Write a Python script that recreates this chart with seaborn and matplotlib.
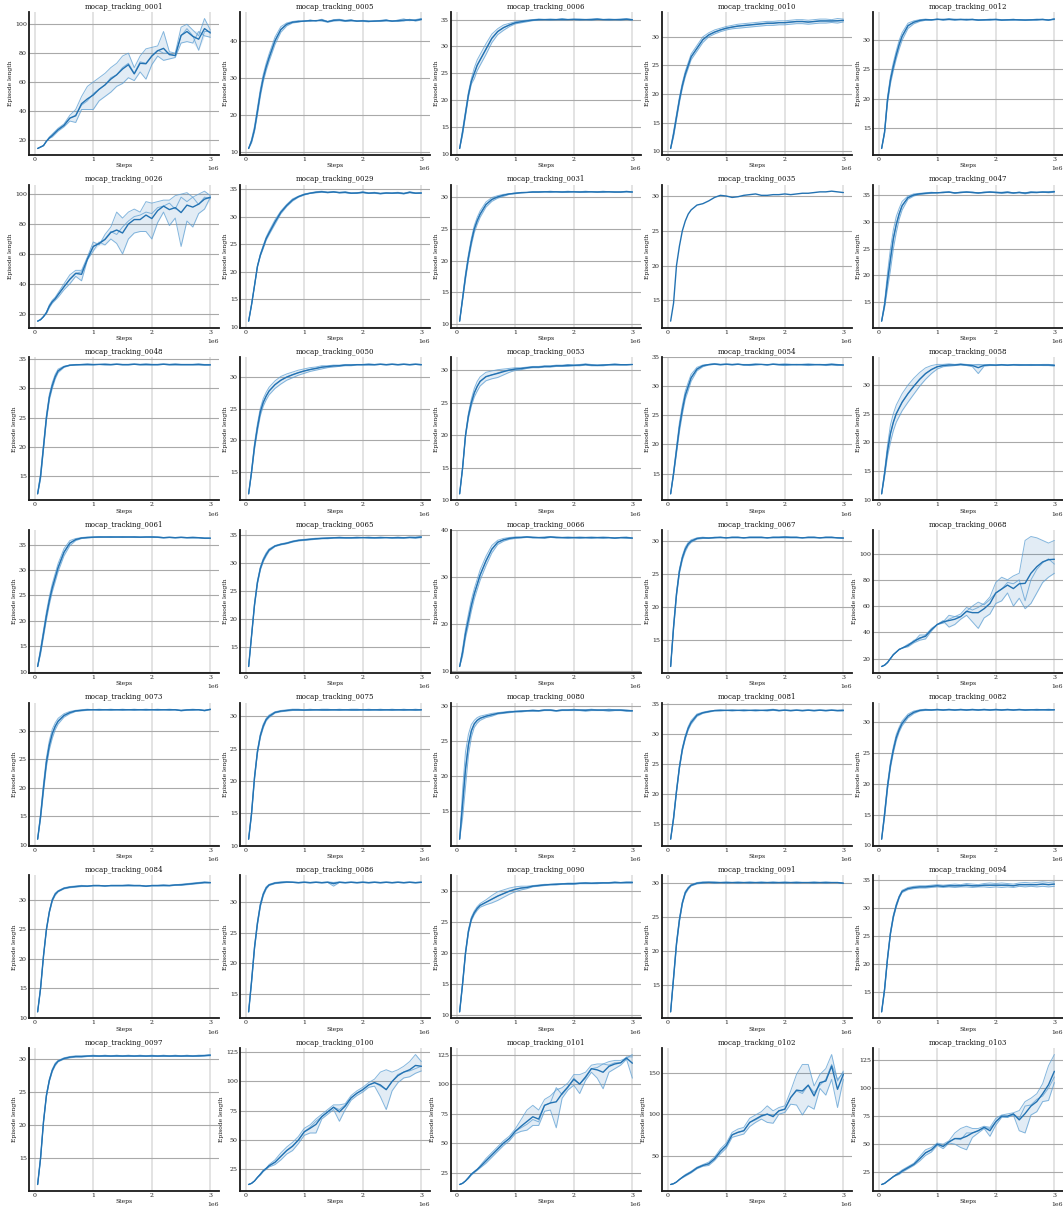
import matplotlib
matplotlib.use("Agg")
import matplotlib.pyplot as plt
from matplotlib.ticker import MaxNLocator
import pandas as pd
import seaborn as sns

# Environment steps at which the evaluation episodes were logged
steps = [50_000, 100_000, 150_000, 200_000, 250_000, 300_000, 350_000, 400_000,
         500_000, 600_000, 700_000, 800_000, 900_000, 1_000_000, 1_100_000, 1_200_000,
         1_300_000, 1_400_000, 1_500_000, 1_600_000, 1_700_000, 1_800_000, 1_900_000,
         2_000_000, 2_100_000, 2_200_000, 2_300_000, 2_400_000, 2_500_000, 2_600_000,
         2_700_000, 2_800_000, 2_900_000, 3_000_000]

# Episode length per seed for every tracking clip
seeds_0001 = [
    [14, 15, 16, 19, 22, 24, 26, 28, 31, 37, 41, 50, 57, 60, 63, 66, 70, 73, 78, 80, 70, 78, 83, 84, 85, 95, 81, 80, 98, 100, 96, 92, 104, 96],
    [14, 15, 16, 19, 21, 23, 25, 27, 30, 35, 37, 44, 47, 52, 55, 58, 63, 65, 70, 73, 66, 74, 73, 78, 82, 80, 80, 78, 92, 97, 92, 82, 95, 95],
    [14, 15, 16, 19, 21, 22, 24, 26, 29, 33, 32, 41, 41, 41, 47, 50, 53, 57, 59, 63, 61, 67, 62, 72, 78, 75, 76, 77, 87, 88, 87, 95, 92, 91],
]
seeds_0005 = [
    [11, 13.5, 17, 22, 27, 31, 34, 36.5, 41, 43.8, 44.8, 45.2, 45.4, 45.2, 45.6, 45.3, 45.8, 45.2, 45.7, 45.8, 45.5, 45.7, 45.2, 45.5, 45.3, 45.2, 45.5, 45.7, 45.2, 45.6, 45.9, 45.4, 45.7, 46.0],
    [11, 13, 16, 21, 26, 30, 33, 35.5, 40, 43, 44.5, 45, 45.2, 45.3, 45.5, 45.4, 45.6, 45.2, 45.5, 45.6, 45.4, 45.5, 45.3, 45.4, 45.3, 45.3, 45.4, 45.5, 45.3, 45.4, 45.5, 45.6, 45.5, 45.8],
    [11, 12.5, 15.5, 20, 25, 29, 32, 34.5, 39, 42.3, 44, 44.8, 45.0, 45.4, 45.2, 45.5, 45.3, 45.0, 45.3, 45.4, 45.2, 45.3, 45.4, 45.2, 45.1, 45.4, 45.2, 45.3, 45.4, 45.2, 45.3, 45.8, 45.3, 45.6],
]
seeds_0006 = [
    [11, 14.5, 18, 21.5, 24, 26, 27.5, 28.5, 30.5, 32.3, 33.3, 34, 34.3, 34.6, 34.8, 34.9, 35, 35.1, 35, 35.1, 35, 35.2, 35, 35.1, 35.1, 35, 35.1, 35.2, 35, 35.1, 35, 35.1, 35.2, 35],
    [11, 14, 17.5, 21, 23.5, 25, 26.5, 27.5, 29.5, 31.5, 32.8, 33.5, 34, 34.4, 34.6, 34.8, 34.9, 35, 35, 35, 35, 35, 35, 35, 35, 35, 35, 35, 35, 35, 35, 35, 35, 35],
    [11, 13.5, 17, 20.5, 23, 24, 25.5, 26.5, 28.5, 30.7, 32.2, 33, 33.7, 34.2, 34.4, 34.6, 34.8, 34.9, 35, 34.9, 35, 34.9, 35, 35, 34.9, 35, 34.9, 35, 35, 34.9, 35, 34.9, 35, 34.9],
]
seeds_0010 = [
    [10.5, 13.5, 16.5, 19.5, 22, 24, 25.5, 27, 28.5, 30, 30.7, 31.2, 31.5, 31.8, 32, 32.2, 32.3, 32.4, 32.5, 32.6, 32.7, 32.7, 32.8, 32.8, 32.9, 33, 33, 32.9, 33, 33.1, 33.1, 33, 33.2, 33.1],
    [10.5, 13, 16, 19, 21.5, 23.5, 25, 26.5, 28, 29.5, 30.3, 30.8, 31.2, 31.5, 31.7, 31.9, 32, 32.1, 32.2, 32.3, 32.4, 32.4, 32.5, 32.5, 32.6, 32.7, 32.7, 32.6, 32.7, 32.8, 32.8, 32.8, 32.8, 32.9],
    [10.5, 12.5, 15.5, 18.5, 21, 23, 24.5, 26, 27.5, 29, 30, 30.5, 30.9, 31.2, 31.4, 31.5, 31.6, 31.7, 31.8, 31.9, 32, 32, 32.1, 32.1, 32.2, 32.3, 32.3, 32.2, 32.3, 32.4, 32.4, 32.5, 32.4, 32.6],
]
seeds_0012 = [
    [11.5, 14.5, 20.3, 23.8, 26.2, 28.2, 30, 31.3, 32.9, 33.3, 33.5, 33.6, 33.5, 33.6, 33.5, 33.7, 33.5, 33.6, 33.5, 33.6, 33.4, 33.5, 33.6, 33.5, 33.4, 33.5, 33.6, 33.4, 33.5, 33.4, 33.5, 33.6, 33.4, 33.7],
    [11.5, 14.3, 19.8, 23.2, 25.5, 27.5, 29.3, 30.7, 32.5, 33.1, 33.4, 33.5, 33.5, 33.5, 33.6, 33.5, 33.6, 33.5, 33.6, 33.5, 33.5, 33.4, 33.5, 33.6, 33.5, 33.4, 33.5, 33.5, 33.4, 33.5, 33.6, 33.5, 33.4, 33.6],
    [11.5, 14, 19.2, 22.5, 24.8, 26.8, 28.5, 30, 32, 32.8, 33.2, 33.4, 33.4, 33.6, 33.4, 33.5, 33.4, 33.5, 33.4, 33.5, 33.4, 33.5, 33.4, 33.5, 33.4, 33.5, 33.4, 33.5, 33.4, 33.5, 33.4, 33.5, 33.5, 33.5],
]
seeds_0026 = [
    [15, 16, 18, 21, 26, 29, 31, 34, 40, 46, 49, 49, 58, 68, 66, 73, 78, 88, 84, 88, 90, 88, 95, 94, 95, 96, 96, 99, 100, 101, 98, 100, 102, 99],
    [15, 16, 18, 21, 25, 28, 30, 33, 38, 43, 47, 48, 56, 65, 67, 70, 75, 73, 78, 82, 85, 86, 88, 87, 91, 92, 94, 90, 98, 95, 98, 93, 98, 97],
    [15, 16, 18, 20, 24, 27, 29, 31, 36, 40, 45, 42, 56, 62, 68, 66, 70, 67, 60, 70, 74, 75, 75, 70, 81, 88, 79, 84, 65, 82, 78, 87, 90, 98],
]
seeds_0029 = [
    [11, 14, 17.5, 21, 23.2, 24.8, 26.3, 27.4, 29.4, 31, 32.2, 33.2, 33.7, 34.1, 34.3, 34.5, 34.6, 34.4, 34.5, 34.4, 34.5, 34.3, 34.3, 34.5, 34.3, 34.4, 34.2, 34.3, 34.3, 34.4, 34.2, 34.5, 34.3, 34.3],
    [11, 14, 17.5, 21, 23, 24.5, 26, 27, 29, 30.8, 32, 33, 33.6, 34, 34.2, 34.4, 34.5, 34.4, 34.5, 34.3, 34.4, 34.2, 34.3, 34.4, 34.2, 34.3, 34.2, 34.3, 34.2, 34.3, 34.2, 34.4, 34.2, 34.3],
    [11, 14, 17.3, 20.8, 22.8, 24.2, 25.7, 26.7, 28.6, 30.5, 31.8, 32.8, 33.5, 33.9, 34.2, 34.3, 34.4, 34.3, 34.4, 34.3, 34.3, 34.2, 34.2, 34.3, 34.2, 34.2, 34.1, 34.2, 34.2, 34.2, 34.1, 34.3, 34.2, 34.2],
]
seeds_0031 = [
    [10.5, 14.3, 18, 21, 23.5, 25.5, 26.8, 27.8, 29.2, 29.9, 30.2, 30.4, 30.5, 30.6, 30.7, 30.7, 30.8, 30.8, 30.8, 30.9, 30.8, 30.8, 30.9, 30.8, 30.8, 30.9, 30.8, 30.8, 30.9, 30.8, 30.7, 30.8, 30.9, 30.8],
    [10.5, 14, 17.5, 20.5, 23, 25, 26.3, 27.3, 28.8, 29.6, 30, 30.3, 30.5, 30.6, 30.7, 30.7, 30.8, 30.8, 30.8, 30.8, 30.8, 30.8, 30.8, 30.8, 30.8, 30.8, 30.8, 30.8, 30.8, 30.8, 30.8, 30.8, 30.8, 30.8],
    [10.5, 13.7, 17, 20, 22.4, 24.4, 25.7, 26.8, 28.4, 29.3, 29.8, 30.1, 30.4, 30.5, 30.6, 30.7, 30.7, 30.7, 30.8, 30.7, 30.8, 30.7, 30.7, 30.8, 30.7, 30.7, 30.8, 30.7, 30.7, 30.8, 30.8, 30.7, 30.8, 30.7],
]
seeds_0035 = [
    [12, 14.6, 20, 22.8, 25, 26.4, 27.4, 28, 28.7, 28.9, 29.3, 29.8, 30.1, 30, 29.8, 29.9, 30.1, 30.2, 30.3, 30.1, 30.1, 30.2, 30.2, 30.3, 30.2, 30.3, 30.4, 30.4, 30.5, 30.6, 30.6, 30.7, 30.6, 30.5],
]
seeds_0047 = [
    [11.5, 15, 20.5, 25, 28.5, 31, 32.5, 33.8, 34.8, 35.2, 35.3, 35.4, 35.5, 35.4, 35.5, 35.6, 35.4, 35.5, 35.6, 35.5, 35.4, 35.5, 35.6, 35.5, 35.5, 35.6, 35.4, 35.5, 35.4, 35.6, 35.5, 35.6, 35.6, 35.7],
    [11.5, 14.5, 19, 23, 27, 29.5, 31.5, 33, 34.5, 35, 35.2, 35.3, 35.4, 35.4, 35.5, 35.5, 35.4, 35.5, 35.5, 35.5, 35.4, 35.5, 35.5, 35.5, 35.4, 35.5, 35.4, 35.5, 35.4, 35.5, 35.5, 35.5, 35.5, 35.6],
    [11.5, 14, 17.5, 21, 25, 28, 30.5, 32.2, 34.2, 34.8, 35.1, 35.2, 35.3, 35.4, 35.4, 35.5, 35.3, 35.4, 35.5, 35.4, 35.3, 35.4, 35.5, 35.4, 35.3, 35.4, 35.3, 35.4, 35.2, 35.4, 35.4, 35.5, 35.4, 35.5],
]
seeds_0048 = [
    [12, 15.5, 20.5, 25.5, 29, 31, 32.4, 33.3, 33.8, 34, 34.1, 34.1, 34.2, 34.1, 34.1, 34.2, 34.1, 34.2, 34.1, 34.1, 34.2, 34.1, 34.2, 34.1, 34.1, 34.2, 34.1, 34.2, 34.1, 34.1, 34.1, 34.2, 34.1, 34.1],
    [12, 15, 20, 25, 28.5, 30.5, 32, 33, 33.7, 34, 34, 34.1, 34.1, 34.1, 34.1, 34.1, 34.1, 34.1, 34.1, 34.1, 34.1, 34.1, 34.1, 34.1, 34.1, 34.1, 34.1, 34.1, 34.1, 34.1, 34.1, 34.1, 34, 34],
    [12, 14.5, 19.5, 24.5, 28, 30, 31.6, 32.7, 33.6, 33.9, 34, 34, 34, 34, 34.1, 34, 34, 34.1, 34, 34, 34.1, 34, 34, 34, 34, 34.1, 34, 34, 34, 34, 34, 34, 34, 34],
]
seeds_0050 = [
    [11.5, 15.3, 19.5, 22.6, 25.1, 26.6, 27.6, 28.4, 29.4, 30.1, 30.5, 30.8, 31.1, 31.3, 31.5, 31.6, 31.8, 31.8, 31.9, 31.9, 32, 32, 32, 32, 32.1, 32, 32.1, 32, 32.1, 32, 32.1, 32, 32.1, 32],
    [11.5, 15, 19, 22, 24.5, 26, 27, 27.8, 28.8, 29.5, 30, 30.4, 30.7, 31, 31.2, 31.4, 31.6, 31.7, 31.8, 31.8, 31.9, 31.9, 32, 32, 32, 32, 32, 32, 32, 32, 32, 32, 32, 32],
    [11.5, 14.7, 18.5, 21.4, 23.9, 25.4, 26.4, 27.2, 28.2, 28.9, 29.5, 29.9, 30.3, 30.6, 30.9, 31.1, 31.3, 31.5, 31.6, 31.7, 31.8, 31.8, 31.9, 31.9, 31.9, 31.9, 32, 31.9, 32, 31.9, 32, 31.9, 32, 31.9],
]
seeds_0053 = [
    [11, 15, 20.2, 23.4, 25.6, 27.2, 28.3, 29, 29.7, 29.9, 30.1, 30.2, 30.3, 30.4, 30.4, 30.5, 30.6, 30.6, 30.7, 30.7, 30.8, 30.8, 30.9, 30.8, 30.9, 31, 30.9, 30.8, 30.9, 30.9, 31, 30.9, 30.9, 30.9],
    [11, 15, 20, 23, 25, 26.5, 27.5, 28.3, 29, 29.3, 29.6, 29.9, 30.1, 30.2, 30.3, 30.4, 30.5, 30.5, 30.6, 30.6, 30.7, 30.7, 30.8, 30.8, 30.8, 30.9, 30.8, 30.8, 30.8, 30.9, 30.9, 30.9, 30.9, 30.9],
    [11, 14.8, 19.7, 22.6, 24.5, 25.9, 26.8, 27.6, 28.4, 28.7, 28.9, 29.3, 29.7, 30, 30.1, 30.3, 30.4, 30.4, 30.5, 30.5, 30.6, 30.6, 30.6, 30.7, 30.7, 30.8, 30.7, 30.7, 30.7, 30.8, 30.8, 30.8, 30.8, 30.9],
]
seeds_0054 = [
    [11.5, 15.3, 19.6, 23.8, 26.8, 29.2, 30.7, 32.1, 33.3, 33.7, 33.8, 33.9, 33.8, 33.9, 33.8, 33.9, 33.7, 33.8, 33.9, 33.8, 33.7, 33.9, 33.8, 33.9, 33.8, 33.7, 33.8, 33.9, 33.8, 33.7, 33.8, 33.9, 33.8, 33.7],
    [11.5, 15, 19, 23, 26, 28.5, 30, 31.5, 33, 33.6, 33.8, 33.9, 33.8, 33.8, 33.8, 33.8, 33.8, 33.8, 33.8, 33.8, 33.8, 33.8, 33.8, 33.8, 33.8, 33.8, 33.8, 33.8, 33.8, 33.8, 33.8, 33.8, 33.8, 33.7],
    [11.5, 14.7, 18.4, 22.2, 25.2, 27.8, 29.3, 30.9, 32.7, 33.4, 33.7, 33.8, 33.7, 33.8, 33.7, 33.8, 33.7, 33.6, 33.7, 33.8, 33.7, 33.8, 33.7, 33.6, 33.7, 33.8, 33.7, 33.6, 33.7, 33.8, 33.6, 33.7, 33.6, 33.7],
]
seeds_0058 = [
    [11, 15, 19.5, 23, 25, 26.5, 27.5, 28.5, 30, 31.2, 32.2, 33, 33.4, 33.6, 33.6, 33.7, 33.6, 33.7, 33.6, 33.5, 33.6, 33.5, 33.6, 33.5, 33.6, 33.5, 33.6, 33.6, 33.5, 33.6, 33.5, 33.6, 33.6, 33.5],
    [11, 14.5, 18.5, 21.5, 23.5, 25, 26, 27, 28.5, 29.8, 31, 32, 32.7, 33.2, 33.4, 33.5, 33.5, 33.6, 33.5, 33.5, 33.5, 33.5, 33.5, 33.5, 33.5, 33.5, 33.5, 33.5, 33.5, 33.5, 33.5, 33.5, 33.5, 33.5],
    [11, 14, 17.5, 20, 22, 23.5, 24.5, 25.5, 27, 28.4, 29.8, 31, 32, 32.8, 33.2, 33.3, 33.4, 33.5, 33.4, 33.2, 32, 33.3, 33.4, 33.4, 33.5, 33.4, 33.5, 33.4, 33.5, 33.4, 33.5, 33.4, 33.4, 33.3],
]
seeds_0061 = [
    [11, 14.6, 18.2, 21.8, 24.8, 27.3, 29.3, 31.3, 34.2, 35.8, 36.2, 36.4, 36.5, 36.5, 36.6, 36.5, 36.6, 36.5, 36.6, 36.5, 36.6, 36.5, 36.5, 36.6, 36.5, 36.4, 36.5, 36.4, 36.5, 36.4, 36.5, 36.4, 36.3, 36.3],
    [11, 14, 17.5, 21, 24, 26.5, 28.5, 30.5, 33.5, 35.3, 36, 36.3, 36.4, 36.5, 36.5, 36.5, 36.5, 36.5, 36.5, 36.5, 36.5, 36.5, 36.5, 36.5, 36.5, 36.4, 36.4, 36.4, 36.4, 36.4, 36.4, 36.4, 36.3, 36.3],
    [11, 13.4, 16.8, 20.2, 23.2, 25.7, 27.7, 29.7, 32.8, 34.8, 35.8, 36.2, 36.3, 36.4, 36.4, 36.5, 36.4, 36.5, 36.4, 36.5, 36.4, 36.4, 36.5, 36.4, 36.4, 36.3, 36.4, 36.3, 36.4, 36.3, 36.3, 36.3, 36.2, 36.2],
]
seeds_0065 = [
    [11.5, 17.2, 22.8, 26.8, 29.3, 30.8, 31.8, 32.5, 33.1, 33.4, 33.6, 33.9, 34.1, 34.2, 34.3, 34.4, 34.4, 34.5, 34.5, 34.6, 34.5, 34.5, 34.6, 34.5, 34.6, 34.5, 34.6, 34.5, 34.5, 34.6, 34.5, 34.6, 34.6, 34.7],
    [11.5, 17, 22.5, 26.5, 29, 30.5, 31.5, 32.3, 33, 33.3, 33.5, 33.8, 34, 34.1, 34.2, 34.3, 34.4, 34.4, 34.5, 34.5, 34.5, 34.5, 34.5, 34.5, 34.5, 34.5, 34.5, 34.5, 34.5, 34.5, 34.5, 34.5, 34.5, 34.6],
    [11.5, 16.8, 22.2, 26.2, 28.7, 30.2, 31.2, 32.1, 32.9, 33.2, 33.4, 33.7, 33.9, 34, 34.1, 34.2, 34.3, 34.3, 34.4, 34.4, 34.4, 34.4, 34.4, 34.5, 34.4, 34.4, 34.4, 34.5, 34.4, 34.4, 34.4, 34.5, 34.4, 34.5],
]
seeds_0066 = [
    [11, 14.8, 19, 22.2, 25.2, 27.6, 29.6, 31.6, 34.5, 36.8, 37.9, 38.3, 38.5, 38.6, 38.6, 38.7, 38.6, 38.5, 38.6, 38.7, 38.6, 38.5, 38.6, 38.5, 38.6, 38.5, 38.6, 38.5, 38.6, 38.5, 38.4, 38.5, 38.6, 38.4],
    [11, 14, 18, 21, 24, 26.5, 28.5, 30.5, 33.5, 36, 37.5, 38, 38.3, 38.5, 38.5, 38.6, 38.5, 38.5, 38.5, 38.6, 38.5, 38.5, 38.5, 38.5, 38.5, 38.5, 38.5, 38.5, 38.5, 38.5, 38.4, 38.5, 38.5, 38.4],
    [11, 13.2, 17, 19.8, 22.8, 25.4, 27.4, 29.4, 32.5, 35.2, 37, 37.7, 38.1, 38.3, 38.4, 38.5, 38.4, 38.4, 38.3, 38.5, 38.4, 38.4, 38.3, 38.4, 38.3, 38.4, 38.3, 38.4, 38.3, 38.4, 38.3, 38.4, 38.3, 38.3],
]
seeds_0067 = [
    [11, 17.3, 22.3, 25.8, 27.8, 29.1, 29.8, 30.2, 30.5, 30.6, 30.5, 30.6, 30.6, 30.5, 30.6, 30.6, 30.5, 30.6, 30.6, 30.6, 30.5, 30.6, 30.6, 30.7, 30.6, 30.6, 30.5, 30.6, 30.6, 30.5, 30.6, 30.6, 30.5, 30.5],
    [11, 17, 22, 25.5, 27.5, 28.8, 29.6, 30, 30.4, 30.5, 30.5, 30.5, 30.6, 30.5, 30.6, 30.6, 30.5, 30.6, 30.6, 30.6, 30.5, 30.6, 30.6, 30.6, 30.6, 30.6, 30.5, 30.6, 30.6, 30.5, 30.6, 30.6, 30.5, 30.5],
    [11, 16.6, 21.6, 25.1, 27.1, 28.4, 29.3, 29.8, 30.3, 30.4, 30.4, 30.5, 30.5, 30.5, 30.5, 30.5, 30.5, 30.5, 30.5, 30.5, 30.5, 30.5, 30.5, 30.5, 30.5, 30.5, 30.5, 30.5, 30.5, 30.5, 30.5, 30.5, 30.5, 30.4],
]
seeds_0068 = [
    [14, 15, 17, 20, 23, 25, 27, 28, 31, 33, 38, 38, 43, 46, 47, 50, 52, 54, 59, 57, 59, 62, 67, 78, 82, 80, 83, 85, 110, 113, 112, 110, 108, 110],
    [14, 15, 17, 20, 23, 25, 27, 28, 30, 34, 35, 38, 42, 46, 48, 53, 52, 52, 56, 60, 63, 61, 65, 70, 73, 78, 77, 80, 64, 80, 88, 93, 96, 92],
    [14, 15, 17, 20, 23, 25, 27, 28, 29, 32, 34, 35, 41, 46, 49, 44, 46, 50, 53, 48, 43, 51, 54, 62, 64, 70, 60, 66, 58, 62, 70, 78, 82, 85],
]
seeds_0073 = [
    [11, 15.5, 20.8, 25.3, 28.3, 30.3, 31.4, 32.2, 33, 33.4, 33.6, 33.7, 33.8, 33.7, 33.8, 33.7, 33.8, 33.7, 33.8, 33.7, 33.8, 33.7, 33.8, 33.7, 33.8, 33.7, 33.8, 33.7, 33.6, 33.7, 33.8, 33.7, 33.6, 33.8],
    [11, 15, 20, 24.5, 27.5, 29.5, 30.8, 31.7, 32.7, 33.2, 33.5, 33.6, 33.7, 33.7, 33.7, 33.7, 33.7, 33.7, 33.7, 33.7, 33.7, 33.7, 33.7, 33.7, 33.7, 33.7, 33.7, 33.7, 33.6, 33.7, 33.7, 33.7, 33.6, 33.8],
    [11, 14.5, 19.2, 23.7, 26.7, 28.7, 30.2, 31.2, 32.4, 33, 33.4, 33.5, 33.6, 33.7, 33.6, 33.7, 33.6, 33.7, 33.6, 33.7, 33.6, 33.7, 33.6, 33.7, 33.6, 33.7, 33.6, 33.7, 33.5, 33.6, 33.6, 33.7, 33.5, 33.7],
]
seeds_0075 = [
    [11, 15.3, 20.8, 24.8, 27.3, 28.8, 29.7, 30.2, 30.7, 30.9, 31, 31.1, 31.1, 31, 31.1, 31, 31.1, 31.1, 31, 31.1, 31, 31.1, 31.1, 31, 31.1, 31, 31.1, 31, 31.1, 31, 31.1, 31, 31.1, 31],
    [11, 15, 20.5, 24.5, 27, 28.5, 29.5, 30, 30.6, 30.8, 30.9, 31, 31, 31, 31, 31, 31, 31, 31, 31, 31, 31, 31, 31, 31, 31, 31, 31, 31, 31, 31, 31, 31, 31],
    [11, 14.7, 20.2, 24.2, 26.7, 28.2, 29.3, 29.8, 30.5, 30.7, 30.8, 30.9, 30.9, 30.9, 30.9, 31, 30.9, 30.9, 31, 30.9, 31, 30.9, 30.9, 31, 30.9, 31, 30.9, 31, 30.9, 31, 30.9, 31, 30.9, 31],
]
seeds_0080 = [
    [11, 18, 23.5, 26, 27.4, 28, 28.4, 28.6, 28.8, 29, 29.1, 29.2, 29.3, 29.3, 29.4, 29.4, 29.5, 29.4, 29.5, 29.5, 29.4, 29.5, 29.5, 29.6, 29.5, 29.5, 29.6, 29.5, 29.5, 29.6, 29.5, 29.5, 29.5, 29.4],
    [11, 16, 21, 24.5, 26.5, 27.5, 28, 28.3, 28.6, 28.8, 29, 29.1, 29.2, 29.3, 29.3, 29.4, 29.4, 29.4, 29.5, 29.5, 29.4, 29.5, 29.5, 29.5, 29.5, 29.5, 29.5, 29.5, 29.5, 29.5, 29.5, 29.5, 29.4, 29.4],
    [11, 14, 18.5, 23, 25.6, 27, 27.6, 28, 28.4, 28.6, 28.9, 29, 29.1, 29.2, 29.2, 29.3, 29.3, 29.3, 29.4, 29.4, 29.3, 29.4, 29.4, 29.4, 29.4, 29.3, 29.4, 29.4, 29.4, 29.3, 29.4, 29.4, 29.3, 29.3],
]
seeds_0081 = [
    [12.5, 16.3, 20.8, 24.8, 27.8, 29.8, 31.3, 32.3, 33.4, 33.7, 33.9, 34, 34.1, 34, 34.1, 34, 34.1, 34, 34.1, 34, 34.1, 34.2, 34, 34.1, 34, 34.1, 34, 34.1, 34, 34.1, 34, 34.1, 34, 34.1],
    [12.5, 16, 20.5, 24.5, 27.5, 29.5, 31, 32, 33.2, 33.6, 33.8, 34, 34, 34, 34, 34, 34, 34, 34, 34, 34, 34.1, 34, 34, 34, 34, 34, 34, 34, 34, 34, 34, 34, 34],
    [12.5, 15.7, 20.2, 24.2, 27.2, 29.2, 30.7, 31.7, 33, 33.5, 33.7, 33.9, 33.9, 34, 33.9, 34, 33.9, 34, 33.9, 34, 33.9, 34, 33.9, 34, 33.9, 34, 33.9, 34, 33.9, 34, 33.9, 34, 33.9, 33.9],
]
seeds_0082 = [
    [11, 15.5, 20, 23.5, 26, 28, 29.2, 30.2, 31.3, 31.8, 32, 32.1, 32, 32.1, 32, 32.1, 32, 32.1, 32, 32.1, 32, 32.1, 32, 32.1, 32, 32.1, 32, 32.1, 32, 32, 32.1, 32, 32.1, 32],
    [11, 15, 19.5, 23, 25.5, 27.5, 28.8, 29.8, 31, 31.6, 31.9, 32, 32, 32, 32, 32, 32, 32, 32, 32, 32, 32, 32, 32, 32, 32, 32, 32, 32, 32, 32, 32, 32, 32],
    [11, 14.5, 19, 22.5, 25, 27, 28.4, 29.4, 30.7, 31.4, 31.8, 31.9, 31.9, 32, 31.9, 32, 31.9, 32, 31.9, 32, 31.9, 32, 31.9, 32, 31.9, 32, 31.9, 32, 31.9, 32, 31.9, 32, 31.9, 32],
]
seeds_0084 = [
    [11, 15.2, 20.7, 25.2, 28.2, 30.2, 31.2, 31.6, 32.1, 32.3, 32.4, 32.5, 32.4, 32.5, 32.5, 32.4, 32.5, 32.5, 32.5, 32.6, 32.5, 32.5, 32.4, 32.5, 32.5, 32.6, 32.5, 32.6, 32.7, 32.8, 32.9, 33, 33.1, 33],
    [11, 15, 20.5, 25, 28, 30, 31, 31.5, 32, 32.2, 32.3, 32.4, 32.4, 32.5, 32.5, 32.4, 32.5, 32.5, 32.5, 32.5, 32.5, 32.5, 32.4, 32.5, 32.5, 32.5, 32.5, 32.6, 32.6, 32.7, 32.8, 32.9, 33, 33],
    [11, 14.8, 20.3, 24.8, 27.8, 29.8, 30.8, 31.4, 31.9, 32.1, 32.2, 32.3, 32.3, 32.4, 32.4, 32.4, 32.4, 32.4, 32.4, 32.4, 32.4, 32.4, 32.3, 32.4, 32.4, 32.4, 32.4, 32.5, 32.5, 32.6, 32.7, 32.8, 32.9, 32.9],
]
seeds_0086 = [
    [12, 17.3, 22.8, 26.8, 29.8, 31.5, 32.5, 32.9, 33.2, 33.3, 33.3, 33.3, 33.2, 33.3, 33.2, 33.3, 33.2, 33.3, 33.2, 33.3, 33.2, 33.3, 33.2, 33.3, 33.2, 33.3, 33.2, 33.3, 33.2, 33.3, 33.2, 33.3, 33.2, 33.3],
    [12, 17, 22.5, 26.5, 29.5, 31.3, 32.3, 32.8, 33.1, 33.2, 33.3, 33.2, 33.2, 33.2, 33.2, 33.2, 33.2, 33.2, 33.2, 33.2, 33.2, 33.2, 33.2, 33.2, 33.2, 33.2, 33.2, 33.2, 33.2, 33.2, 33.2, 33.2, 33.2, 33.2],
    [12, 16.7, 22.2, 26.2, 29.2, 31, 32.1, 32.7, 33, 33.1, 33.2, 33.2, 33.1, 33.2, 33.1, 33.2, 33.1, 33.2, 32.6, 33.2, 33.1, 33.2, 33.1, 33.2, 33.1, 33.2, 33.1, 33.2, 33.1, 33.2, 33.1, 33.2, 33.1, 33.2],
]
seeds_0090 = [
    [10.5, 15.3, 20.3, 23.8, 25.8, 26.8, 27.5, 28, 28.6, 29.3, 29.9, 30.2, 30.5, 30.7, 30.8, 30.8, 30.9, 31, 31.1, 31.1, 31.2, 31.2, 31.3, 31.3, 31.3, 31.4, 31.3, 31.4, 31.4, 31.4, 31.5, 31.4, 31.5, 31.5],
    [10.5, 15, 20, 23.5, 25.5, 26.5, 27.2, 27.7, 28.2, 28.7, 29.2, 29.6, 30, 30.3, 30.5, 30.6, 30.8, 30.9, 31, 31.1, 31.1, 31.2, 31.2, 31.2, 31.3, 31.3, 31.3, 31.3, 31.3, 31.3, 31.4, 31.4, 31.4, 31.4],
    [10.5, 14.7, 19.7, 23.2, 25.2, 26.2, 26.9, 27.4, 27.8, 28.1, 28.5, 29, 29.5, 29.9, 30.2, 30.4, 30.7, 30.8, 30.9, 31, 31, 31.1, 31.1, 31.1, 31.2, 31.2, 31.2, 31.2, 31.3, 31.3, 31.3, 31.3, 31.3, 31.3],
]
seeds_0091 = [
    [11, 16.3, 21.3, 24.8, 27.2, 28.7, 29.3, 29.7, 30, 30.1, 30.1, 30.1, 30, 30.1, 30, 30.1, 30, 30.1, 30, 30.1, 30, 30.1, 30, 30.1, 30, 30.1, 30, 30, 30.1, 30, 30.1, 30, 30, 29.9],
    [11, 16, 21, 24.5, 27, 28.5, 29.2, 29.6, 29.9, 30, 30, 30, 30, 30, 30, 30, 30, 30, 30, 30, 30, 30, 30, 30, 30, 30, 30, 30, 30, 30, 30, 30, 30, 29.9],
    [11, 15.7, 20.7, 24.2, 26.8, 28.3, 29, 29.5, 29.8, 29.9, 30, 29.9, 30, 29.9, 30, 29.9, 30, 29.9, 30, 29.9, 30, 29.9, 30, 29.9, 30, 29.9, 30, 30, 29.9, 30, 29.9, 30, 30, 29.9],
]
seeds_0094 = [
    [11.5, 15.8, 21.3, 25.8, 28.8, 30.8, 32.2, 33.2, 33.7, 33.9, 34, 34, 34.1, 34.2, 34.1, 34.2, 34.3, 34.2, 34.4, 34.3, 34.2, 34.4, 34.5, 34.4, 34.5, 34.4, 34.3, 34.5, 34.6, 34.5, 34.6, 34.7, 34.6, 34.7],
    [11.5, 15.5, 21, 25.5, 28.5, 30.5, 32, 33, 33.5, 33.7, 33.8, 33.8, 33.9, 34, 33.9, 34, 34, 34, 34.1, 34, 34, 34.1, 34.1, 34.1, 34.1, 34.1, 34, 34.2, 34.2, 34.2, 34.2, 34.3, 34.2, 34.3],
    [11.5, 15.2, 20.7, 25.2, 28.2, 30.2, 31.8, 32.8, 33.3, 33.5, 33.6, 33.6, 33.7, 33.8, 33.7, 33.8, 33.7, 33.8, 33.8, 33.7, 33.8, 33.8, 33.7, 33.8, 33.7, 33.8, 33.7, 33.9, 33.8, 33.9, 33.8, 33.9, 33.8, 33.9],
]
seeds_0097 = [
    [11, 15.2, 20.7, 24.7, 27, 28.5, 29.4, 29.8, 30.2, 30.4, 30.5, 30.5, 30.5, 30.6, 30.5, 30.6, 30.5, 30.6, 30.5, 30.6, 30.5, 30.6, 30.5, 30.6, 30.5, 30.6, 30.5, 30.6, 30.5, 30.6, 30.5, 30.6, 30.6, 30.7],
    [11, 15, 20.5, 24.5, 26.8, 28.3, 29.2, 29.7, 30.1, 30.3, 30.4, 30.4, 30.5, 30.5, 30.5, 30.5, 30.5, 30.5, 30.5, 30.5, 30.5, 30.5, 30.5, 30.5, 30.5, 30.5, 30.5, 30.5, 30.5, 30.5, 30.5, 30.5, 30.5, 30.6],
    [11, 14.8, 20.3, 24.3, 26.6, 28.1, 29, 29.6, 30, 30.2, 30.3, 30.3, 30.4, 30.4, 30.4, 30.4, 30.4, 30.4, 30.4, 30.4, 30.4, 30.4, 30.4, 30.4, 30.4, 30.4, 30.4, 30.4, 30.4, 30.4, 30.4, 30.4, 30.5, 30.5],
]
seeds_0100 = [
    [12, 13, 15, 18, 21, 24, 26, 29, 33, 39, 44, 48, 53, 60, 63, 68, 72, 76, 80, 80, 81, 88, 92, 95, 99, 102, 108, 110, 108, 110, 113, 117, 123, 117],
    [12, 13, 15, 18, 21, 24, 26, 28, 31, 36, 41, 45, 50, 57, 61, 66, 70, 74, 78, 76, 80, 86, 90, 93, 97, 99, 96, 93, 100, 106, 108, 109, 111, 113],
    [12, 13, 15, 18, 20, 23, 25, 27, 29, 33, 38, 41, 47, 54, 56, 56, 68, 72, 76, 66, 76, 84, 88, 91, 95, 96, 87, 76, 92, 99, 103, 104, 107, 109],
]
seeds_0101 = [
    [15, 16, 18, 21, 24, 26, 28, 31, 37, 42, 47, 52, 56, 62, 70, 78, 82, 78, 87, 90, 95, 97, 101, 108, 108, 110, 116, 117, 117, 119, 120, 120, 122, 125],
    [15, 16, 18, 21, 24, 26, 28, 30, 35, 40, 45, 50, 54, 60, 63, 66, 70, 68, 82, 84, 97, 91, 97, 105, 100, 105, 113, 114, 117, 116, 118, 118, 123, 123],
    [15, 16, 18, 20, 23, 25, 27, 29, 33, 38, 43, 48, 52, 58, 60, 61, 65, 65, 77, 78, 63, 88, 95, 99, 92, 103, 110, 105, 96, 110, 113, 116, 121, 105],
]
seeds_0102 = [
    [15, 16, 18, 21, 24, 27, 29, 31, 36, 39, 42, 48, 58, 65, 78, 82, 84, 95, 99, 103, 110, 104, 108, 110, 128, 148, 160, 160, 134, 148, 155, 172, 140, 152],
    [15, 16, 18, 21, 24, 26, 28, 30, 35, 38, 40, 46, 55, 62, 75, 78, 80, 90, 93, 97, 100, 98, 104, 106, 120, 128, 125, 135, 126, 135, 142, 160, 142, 150],
    [15, 16, 18, 21, 23, 25, 27, 29, 34, 37, 38, 44, 52, 59, 72, 74, 76, 85, 90, 94, 90, 89, 100, 102, 112, 111, 99, 110, 106, 131, 123, 142, 108, 142],
]
seeds_0103 = [
    [14, 15, 17, 19, 21, 23, 25, 27, 30, 33, 39, 45, 47, 51, 50, 53, 60, 64, 66, 64, 64, 66, 65, 73, 76, 77, 78, 80, 88, 91, 95, 104, 120, 130],
    [14, 15, 17, 19, 21, 23, 24, 26, 29, 32, 37, 42, 45, 50, 48, 52, 55, 54, 60, 60, 62, 65, 64, 70, 75, 74, 77, 73, 84, 85, 90, 93, 100, 110],
    [14, 15, 17, 19, 21, 22, 23, 25, 28, 31, 35, 40, 43, 49, 46, 51, 50, 47, 45, 56, 60, 64, 57, 67, 74, 74, 76, 62, 60, 76, 79, 88, 89, 105],
]

clip_ids = ["0001", "0005", "0006", "0010", "0012",
            "0026", "0029", "0031", "0035", "0047",
            "0048", "0050", "0053", "0054", "0058",
            "0061", "0065", "0066", "0067", "0068",
            "0073", "0075", "0080", "0081", "0082",
            "0084", "0086", "0090", "0091", "0094",
            "0097", "0100", "0101", "0102", "0103"]
runs = [seeds_0001, seeds_0005, seeds_0006, seeds_0010, seeds_0012,
        seeds_0026, seeds_0029, seeds_0031, seeds_0035, seeds_0047,
        seeds_0048, seeds_0050, seeds_0053, seeds_0054, seeds_0058,
        seeds_0061, seeds_0065, seeds_0066, seeds_0067, seeds_0068,
        seeds_0073, seeds_0075, seeds_0080, seeds_0081, seeds_0082,
        seeds_0084, seeds_0086, seeds_0090, seeds_0091, seeds_0094,
        seeds_0097, seeds_0100, seeds_0101, seeds_0102, seeds_0103]

sns.set_theme(style="ticks")
plt.rcParams["font.family"] = ["DejaVu Serif"]
plt.rcParams["axes.unicode_minus"] = False

MEAN_COLOR = "#2372b2"
SEED_COLOR = "#5d9fd3"

fig, axes = plt.subplots(7, 5, figsize=(10.63, 12.10), dpi=100)
fig.subplots_adjust(left=29 / 1063, right=1.0, top=1 - 12 / 1210,
                    bottom=1 - 1191 / 1210, wspace=21 / 190, hspace=29.7 / 143)

for ax, cid, seeds in zip(axes.flat, clip_ids, runs):
    rows = []
    for s, run in enumerate(seeds):
        assert len(run) == len(steps), (cid, s, len(run))
        rows.extend((s, x, v) for x, v in zip(steps, run))
    df = pd.DataFrame(rows, columns=["seed", "Steps", "Episode length"])

    # mean across seeds with min-max band
    sns.lineplot(data=df, x="Steps", y="Episode length", errorbar=("pi", 100),
                 color=MEAN_COLOR, lw=1.0, ax=ax, zorder=3,
                 err_kws={"alpha": 0.13, "linewidth": 0})
    # individual seeds
    if len(seeds) > 1:
        sns.lineplot(data=df, x="Steps", y="Episode length", units="seed",
                     estimator=None, color=SEED_COLOR, lw=0.7, alpha=0.75,
                     ax=ax, zorder=2)

    ax.set_title(f"mocap_tracking_{cid}", fontsize=5, pad=2.5, color="#111111")
    ax.set_xlabel("Steps", fontsize=4.3, labelpad=1.0, color="#111111")
    ax.set_ylabel("Episode length", fontsize=4.3, labelpad=1.5, color="#111111")
    ax.yaxis.set_major_locator(MaxNLocator(nbins=6, steps=[1, 2, 2.5, 5, 10]))
    ax.set_xticks([0, 1_000_000, 2_000_000, 3_000_000])
    ax.tick_params(axis="both", length=0, pad=1.5, labelsize=4.5, colors="#222222")
    ax.xaxis.get_offset_text().set_fontsize(4.5)

    ax.set_axisbelow(True)
    ax.grid(axis="x", color="#dedede", lw=1.2)
    ax.grid(axis="y", color="#a9a9a9", lw=0.8)
    sns.despine(ax=ax)
    for side in ("left", "bottom"):
        ax.spines[side].set_color("#1a1a1a")
        ax.spines[side].set_linewidth(1.3)

fig.savefig("out.png", dpi=100)
